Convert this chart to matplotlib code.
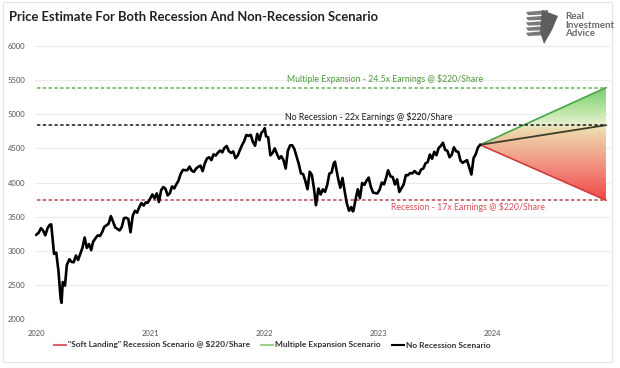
import matplotlib
matplotlib.use("Agg")
import matplotlib.pyplot as plt
import matplotlib.dates as mdates
from matplotlib.patches import Polygon, Rectangle
from matplotlib.colors import LinearSegmentedColormap
from matplotlib.lines import Line2D
import numpy as np
import pandas as pd

# ---------------- data ----------------
spx_dates = [
    "2020-01-02","2020-01-10","2020-01-17","2020-01-24","2020-01-31","2020-02-07","2020-02-14","2020-02-19","2020-02-28",
    "2020-03-06","2020-03-13","2020-03-20","2020-03-23","2020-03-27","2020-04-03","2020-04-09","2020-04-17","2020-04-24",
    "2020-05-01","2020-05-08","2020-05-15","2020-05-22","2020-05-29","2020-06-05","2020-06-12","2020-06-19","2020-06-26",
    "2020-07-02","2020-07-10","2020-07-17","2020-07-24","2020-07-31","2020-08-07","2020-08-14","2020-08-21","2020-08-28",
    "2020-09-04","2020-09-11","2020-09-18","2020-09-25","2020-10-02","2020-10-09","2020-10-16","2020-10-23","2020-10-30",
    "2020-11-06","2020-11-13","2020-11-20","2020-11-27","2020-12-04","2020-12-11","2020-12-18","2020-12-24","2020-12-31",
    "2021-01-08","2021-01-15","2021-01-22","2021-01-29","2021-02-05","2021-02-12","2021-02-19","2021-02-26","2021-03-05",
    "2021-03-12","2021-03-19","2021-03-26","2021-04-01","2021-04-09","2021-04-16","2021-04-23","2021-04-30","2021-05-07",
    "2021-05-14","2021-05-21","2021-05-28","2021-06-04","2021-06-11","2021-06-18","2021-06-25","2021-07-02","2021-07-09",
    "2021-07-16","2021-07-23","2021-07-30","2021-08-06","2021-08-13","2021-08-20","2021-08-27","2021-09-03","2021-09-10",
    "2021-09-17","2021-09-24","2021-10-01","2021-10-08","2021-10-15","2021-10-22","2021-10-29","2021-11-05","2021-11-12",
    "2021-11-19","2021-11-26","2021-12-03","2021-12-10","2021-12-17","2021-12-23","2021-12-31",
    "2022-01-03","2022-01-07","2022-01-14","2022-01-21","2022-01-28","2022-02-04","2022-02-11","2022-02-18","2022-02-25",
    "2022-03-04","2022-03-11","2022-03-18","2022-03-25","2022-04-01","2022-04-08","2022-04-14","2022-04-22","2022-04-29",
    "2022-05-06","2022-05-13","2022-05-20","2022-05-27","2022-06-03","2022-06-10","2022-06-16","2022-06-24","2022-07-01",
    "2022-07-08","2022-07-15","2022-07-22","2022-07-29","2022-08-05","2022-08-12","2022-08-16","2022-08-19","2022-08-26",
    "2022-09-02","2022-09-09","2022-09-16","2022-09-23","2022-09-30","2022-10-07","2022-10-12","2022-10-14","2022-10-21",
    "2022-10-28","2022-11-04","2022-11-11","2022-11-18","2022-11-25","2022-12-02","2022-12-09","2022-12-16","2022-12-23",
    "2022-12-30",
    "2023-01-06","2023-01-13","2023-01-20","2023-01-27","2023-02-02","2023-02-10","2023-02-17","2023-02-24","2023-03-03",
    "2023-03-10","2023-03-17","2023-03-24","2023-03-31","2023-04-06","2023-04-14","2023-04-21","2023-04-28","2023-05-05",
    "2023-05-12","2023-05-19","2023-05-26","2023-06-02","2023-06-09","2023-06-16","2023-06-23","2023-06-30","2023-07-07",
    "2023-07-14","2023-07-21","2023-07-28","2023-08-04","2023-08-11","2023-08-18","2023-08-25","2023-09-01","2023-09-08",
    "2023-09-15","2023-09-22","2023-09-29","2023-10-06","2023-10-13","2023-10-20","2023-10-27","2023-11-03","2023-11-10",
    "2023-11-17","2023-11-24",
]
spx_close = [
    3235,3265,3330,3295,3226,3328,3380,3386,2954,
    2972,2711,2305,2237,2541,2489,2790,2875,2837,
    2831,2930,2864,2955,3044,3194,3041,3098,3009,
    3130,3185,3225,3216,3271,3351,3373,3397,3508,
    3427,3341,3319,3298,3348,3477,3484,3465,3270,
    3509,3585,3558,3638,3699,3663,3709,3703,3756,
    3825,3768,3841,3714,3887,3934,3907,3811,3842,
    3943,3913,3975,4020,4129,4185,4180,4181,4233,
    4174,4156,4204,4230,4247,4166,4281,4352,4370,
    4327,4412,4395,4437,4468,4442,4509,4535,4459,
    4433,4455,4357,4391,4471,4545,4605,4697,4683,
    4698,4595,4538,4712,4621,4726,4766,
    4796,4677,4663,4398,4432,4500,4419,4349,4385,
    4329,4204,4463,4543,4546,4488,4393,4272,4132,
    4123,4023,3901,4158,4109,3901,3667,3912,3825,
    3899,3863,3962,4130,4145,4280,4305,4228,4058,
    3924,4067,3873,3693,3586,3640,3577,3583,3753,
    3901,3771,3993,3965,4026,4072,3934,3852,3845,
    3840,
    3895,3999,3973,4071,4180,4090,4079,3970,4046,
    3862,3917,3971,4109,4105,4138,4133,4169,4136,
    4124,4192,4205,4282,4299,4410,4348,4450,4399,
    4505,4536,4582,4478,4464,4370,4406,4516,4457,
    4450,4320,4288,4309,4327,4224,4117,4358,4415,
    4514,4552,
]

level_values = [5390, 4840, 3740]          # 24.5x, 22x, 17x of $220
level_labels = ["Multiple Expansion - 24.5x Earnings @ $220/Share",
                "No Recession - 22x Earnings @ $220/Share",
                "Recession - 17x Earnings @ $220/Share"]
level_start = "2020-01-03"
proj_end = "2024-12-31"

legend_labels = ['"Soft Landing" Recession Scenario @ $220/Share',
                 "Multiple Expansion Scenario",
                 "No Recession Scenario"]
year_ticks = ["2020", "2021", "2022", "2023", "2024"]
y_ticks = [2000, 2500, 3000, 3500, 4000, 4500, 5000, 5500, 6000]

# ---------------- styling ----------------
plt.rcParams['font.family'] = ['Lato', 'DejaVu Sans']

fig = plt.figure(figsize=(6.2, 3.68), dpi=100)
ax = fig.add_axes([35/620, 1-319/368, 575/620, 273/368])

dates = pd.to_datetime(spx_dates)
ax.plot(dates, spx_close, color="black", lw=1.9, zorder=5, solid_joinstyle="round")

# horizontal scenario levels
green, black, red = "#6aae5a", "#1a1a1a", "#b5474a"
x0 = pd.Timestamp(level_start)
x1 = pd.Timestamp(proj_end)
for val, col in zip(level_values, [green, black, red]):
    ax.plot([x0, x1], [val, val], color=col, lw=1.1, ls=(0, (2.2, 1.6)), zorder=4)

# projection fan
xs = mdates.date2num(dates[-1])
xe = mdates.date2num(x1)
ys = spx_close[-1]
top, mid, bot = level_values
cmap = LinearSegmentedColormap.from_list(
    "fan", [(0.0, "#f04848"), (0.30, "#f28e80"), (0.62, "#eed9ad"),
            (0.672, "#e6f0cf"), (0.80, "#b7e4a2"), (1.0, "#78cf6e")])
grad = np.linspace(0, 1, 256).reshape(-1, 1)
im = ax.imshow(grad, cmap=cmap, origin="lower", aspect="auto",
               extent=[xs, xe, bot, top], zorder=2, interpolation="bilinear")
poly = Polygon([[xs, ys], [xe, top], [xe, bot]], closed=True, transform=ax.transData,
               facecolor="none", edgecolor="none")
ax.add_patch(poly)
im.set_clip_path(poly)
ax.plot([xs, xe], [ys, top], color="#4aa548", lw=1.2, zorder=3)
ax.plot([xs, xe], [ys, mid], color="#3f3d2a", lw=1.3, zorder=3)
ax.plot([xs, xe], [ys, bot], color="#d23c3c", lw=1.2, zorder=3)

# annotations
afs = 6.3
ax.text(pd.Timestamp("2022-03-15"), 5440, level_labels[0], color="#4f9a3c", fontsize=afs,
        va="bottom", ha="left", zorder=6)
ax.text(pd.Timestamp("2022-03-10"), 4880, level_labels[1], color="#1a1a1a", fontsize=afs,
        va="bottom", ha="left", zorder=6)
ax.text(pd.Timestamp("2023-02-12"), 3640, level_labels[2], color="#d8505a", fontsize=afs,
        va="center", ha="left", zorder=6)

# axes
ax.set_ylim(2000, 6000)
ax.set_xlim(pd.Timestamp("2019-12-29"), pd.Timestamp("2025-01-13"))
ax.set_yticks(y_ticks)
ax.set_yticklabels([str(v) for v in y_ticks])
ax.set_xticks(pd.to_datetime([y + "-01-01" for y in year_ticks]))
ax.set_xticklabels(year_ticks)
ax.tick_params(axis="both", length=0, labelsize=5.5, colors="#555555")
ax.tick_params(axis="y", pad=7)
ax.tick_params(axis="x", pad=8)
ax.grid(axis="y", color="#ebebeb", lw=0.8)
ax.grid(axis="x", visible=False)
ax.set_axisbelow(True)
for s in ax.spines.values():
    s.set_visible(False)

# legend
handles = [Line2D([], [], color="#e06070", lw=1.5),
           Line2D([], [], color="#9bd08a", lw=1.5),
           Line2D([], [], color="black", lw=1.5)]
fig.legend(handles, legend_labels, loc="center", bbox_to_anchor=(272/620, 1-345/368),
           ncol=3, frameon=False, handlelength=1.5, handletextpad=0.2,
           columnspacing=1.3, labelcolor="#333333",
           prop={"family": ["Lato", "DejaVu Sans"], "weight": "bold", "size": 6.0})

# title
fig.text(9/620, 1-17/368, "Price Estimate For Both Recession And Non-Recession Scenario",
         fontsize=9.4, fontweight="bold", color="#222222", va="center", ha="left")

# logo
logo = fig.add_axes([520/620, 1-46/368, 40/620, 40/368])
logo.set_xlim(0, 1); logo.set_ylim(0, 1); logo.axis("off")
for (y, w) in [(0.85, 0.55), (0.72, 0.65), (0.59, 0.7), (0.46, 0.62), (0.33, 0.5)]:
    logo.add_patch(Polygon([[0.15, y], [0.15 + w, y + 0.05], [0.15 + w, y - 0.06], [0.2, y - 0.08]],
                           closed=True, facecolor="#7a7a7a", edgecolor="none"))
logo.add_patch(Polygon([[0.55, 0.9], [0.95, 0.75], [0.8, 0.4], [0.6, 0.05], [0.5, 0.35]],
                       closed=True, facecolor="#5e5e5e", edgecolor="none"))
fig.text(565/620, 1-25/368, "Real\nInvestment\nAdvice", fontsize=7, fontweight="bold",
         color="#6a6a6a", va="center", ha="left", linespacing=0.95)

# frame
fig.add_artist(Rectangle((3/620, 6/368), 609/620, 360/368, transform=fig.transFigure,
                         fill=False, edgecolor="#e4e4e4", lw=0.8))

fig.savefig("out.png", dpi=100)
